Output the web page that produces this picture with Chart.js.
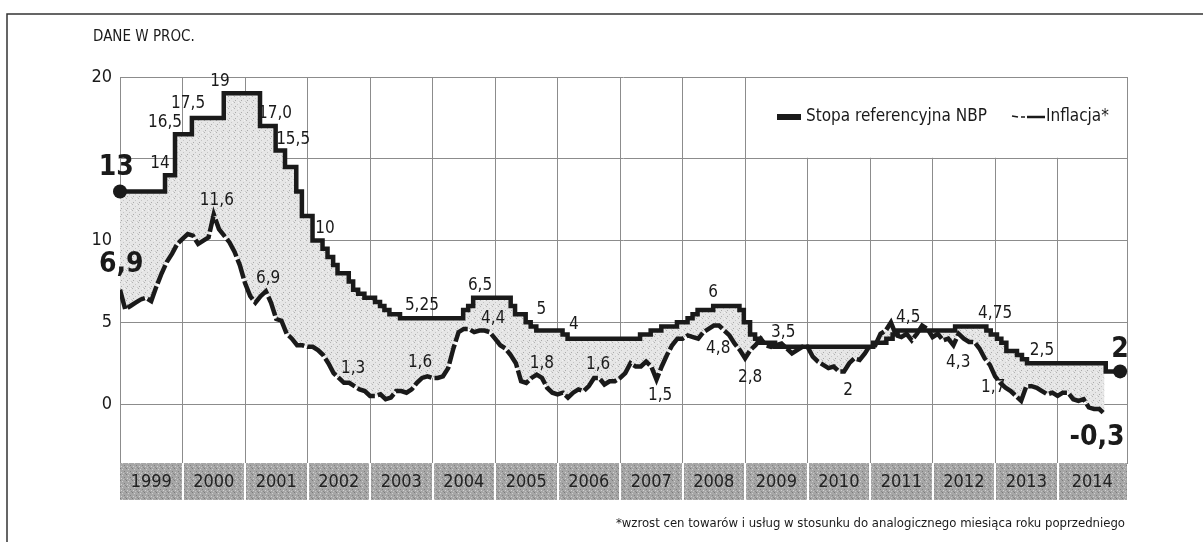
<!DOCTYPE html>
<html>
<head>
<meta charset="utf-8">
<script src="https://cdn.jsdelivr.net/npm/chart.js@4/dist/chart.umd.min.js"></script>
<style>
  html, body { margin: 0; padding: 0; background: #fff; }
  #wrap { width: 1203px; height: 542px; position: relative; }
</style>
</head>
<body>
<div id="wrap"><canvas id="chart"></canvas></div>
<script>
// stopa referencyjna NBP - daty zmian i nowe poziomy
const rateDates = [1999.0, 1999.72, 1999.88, 2000.15, 2000.66, 2001.24, 2001.49, 2001.64, 2001.82, 2001.91,
  2002.08, 2002.24, 2002.32, 2002.41, 2002.48, 2002.66, 2002.73, 2002.81, 2002.91, 2003.08,
  2003.16, 2003.23, 2003.31, 2003.48, 2004.49, 2004.57, 2004.65, 2005.25, 2005.32, 2005.49,
  2005.57, 2005.66, 2006.08, 2006.16, 2007.32, 2007.49, 2007.66, 2007.91, 2008.08, 2008.16,
  2008.24, 2008.49, 2008.91, 2008.98, 2009.08, 2009.16, 2009.24, 2009.48, 2011.05, 2011.26,
  2011.36, 2011.44, 2012.36, 2012.86, 2012.93, 2013.03, 2013.10, 2013.18, 2013.35, 2013.43,
  2013.51, 2014.77, 2015.0];
const rateValues = [13, 14, 16.5, 17.5, 19, 17, 15.5, 14.5, 13, 11.5,
  10, 9.5, 9, 8.5, 8, 7.5, 7, 6.75, 6.5, 6.25,
  6, 5.75, 5.5, 5.25, 5.75, 6, 6.5, 6, 5.5, 5,
  4.75, 4.5, 4.25, 4, 4.25, 4.5, 4.75, 5, 5.25, 5.5,
  5.75, 6, 5.75, 5, 4.25, 4, 3.75, 3.5, 3.75, 4,
  4.25, 4.5, 4.75, 4.5, 4.25, 4, 3.75, 3.25, 3, 2.75,
  2.5, 2, 2];

// inflacja r/r, miesiecznie od stycznia 1999
const inflationStart = 1999;
const inflation = [
  7.0, 5.8, 6.0, 6.2, 6.4, 6.5, 6.3, 7.2, 8.0, 8.7, 9.2, 9.8,        // 1999
  10.1, 10.4, 10.3, 9.8, 10.0, 10.2, 11.6, 10.7, 10.3, 9.9, 9.3, 8.5, // 2000
  7.4, 6.6, 6.2, 6.6, 6.9, 6.2, 5.2, 5.1, 4.3, 4.0, 3.6, 3.6,        // 2001
  3.5, 3.5, 3.3, 3.0, 2.5, 1.9, 1.6, 1.3, 1.3, 1.1, 0.9, 0.8,        // 2002
  0.5, 0.5, 0.6, 0.3, 0.4, 0.8, 0.8, 0.7, 0.9, 1.3, 1.6, 1.7,        // 2003
  1.6, 1.6, 1.7, 2.2, 3.4, 4.4, 4.6, 4.6, 4.4, 4.5, 4.5, 4.4,        // 2004
  4.0, 3.6, 3.4, 3.0, 2.5, 1.4, 1.3, 1.6, 1.8, 1.6, 1.0, 0.7,        // 2005
  0.6, 0.7, 0.4, 0.7, 0.9, 0.8, 1.1, 1.6, 1.6, 1.2, 1.4, 1.4,        // 2006
  1.6, 1.9, 2.5, 2.3, 2.3, 2.6, 2.3, 1.5, 2.3, 3.0, 3.6, 4.0,        // 2007
  4.0, 4.2, 4.1, 4.0, 4.4, 4.6, 4.8, 4.8, 4.5, 4.2, 3.7, 3.3,        // 2008
  2.8, 3.3, 3.6, 4.0, 3.6, 3.5, 3.6, 3.7, 3.4, 3.1, 3.3, 3.5,        // 2009
  3.5, 2.9, 2.6, 2.4, 2.2, 2.3, 2.0, 2.0, 2.5, 2.8, 2.7, 3.1,        // 2010
  3.6, 3.6, 4.3, 4.5, 5.0, 4.2, 4.1, 4.3, 3.9, 4.3, 4.8, 4.6,        // 2011
  4.1, 4.3, 3.9, 4.0, 3.6, 4.3, 4.0, 3.8, 3.8, 3.4, 2.8, 2.4,        // 2012
  1.7, 1.3, 1.0, 0.8, 0.5, 0.2, 1.1, 1.1, 1.0, 0.8, 0.6, 0.7,        // 2013
  0.5, 0.7, 0.7, 0.3, 0.2, 0.3, -0.2, -0.3, -0.3, -0.6               // 2014
];

const years = [1999, 2000, 2001, 2002, 2003, 2004, 2005, 2006, 2007, 2008, 2009, 2010, 2011, 2012, 2013, 2014];
const yTicks = [0, 5, 10, 15, 20];
const yTickLabels = ["0", "5", "10", "", "20"];

// opisy wartosci na wykresie (w jednostkach osi)
const notes = [
  { t: "13", x: 1998.94, y: 14.45, big: true },
  { t: "6,9", x: 1999.02, y: 8.5, big: true },
  { t: "14", x: 1999.64, y: 14.7 },
  { t: "16,5", x: 1999.72, y: 17.2 },
  { t: "17,5", x: 2000.09, y: 18.4 },
  { t: "19", x: 2000.6, y: 19.75 },
  { t: "17,0", x: 2001.48, y: 17.75 },
  { t: "15,5", x: 2001.77, y: 16.2 },
  { t: "11,6", x: 2000.55, y: 12.45 },
  { t: "10", x: 2002.28, y: 10.75 },
  { t: "6,9", x: 2001.37, y: 7.7 },
  { t: "1,3", x: 2002.73, y: 2.2 },
  { t: "5,25", x: 2003.83, y: 6.05 },
  { t: "1,6", x: 2003.8, y: 2.55 },
  { t: "6,5", x: 2004.76, y: 7.25 },
  { t: "4,4", x: 2004.97, y: 5.25 },
  { t: "5", x: 2005.74, y: 5.8 },
  { t: "4", x: 2006.26, y: 4.85 },
  { t: "1,8", x: 2005.75, y: 2.5 },
  { t: "1,6", x: 2006.65, y: 2.4 },
  { t: "1,5", x: 2007.64, y: 0.55 },
  { t: "6", x: 2008.49, y: 6.8 },
  { t: "4,8", x: 2008.57, y: 3.4 },
  { t: "2,8", x: 2009.08, y: 1.65 },
  { t: "3,5", x: 2009.61, y: 4.4 },
  { t: "2", x: 2010.65, y: 0.85 },
  { t: "4,5", x: 2011.61, y: 5.3 },
  { t: "4,75", x: 2013.0, y: 5.55 },
  { t: "4,3", x: 2012.41, y: 2.56 },
  { t: "2,5", x: 2013.75, y: 3.3 },
  { t: "1,7", x: 2012.97, y: 1.0 },
  { t: "2", x: 2015.0, y: 3.3, big: true },
  { t: "-0,3", x: 2014.63, y: -2.05, big: true }
];

const FONT = '"Liberation Sans Narrow", "DejaVu Sans Condensed", "Liberation Sans", sans-serif';
const INK = "#1a1a1a";

function makePattern(base, dots) {
  const c = document.createElement("canvas");
  c.width = 6; c.height = 6;
  const g = c.getContext("2d");
  g.fillStyle = base;
  g.fillRect(0, 0, 6, 6);
  dots.forEach(d => { g.fillStyle = d[2]; g.fillRect(d[0], d[1], 1, 1); });
  return g.createPattern(c, "repeat");
}
const stipple = makePattern("#e6e6e6", [[0, 0, "#b4b4b4"], [3, 2, "#c4c4c4"], [1, 4, "#aaaaaa"], [5, 5, "#cccccc"], [4, 0, "#f4f4f4"]]);
const bandFill = makePattern("#a6a6a6", [[0, 0, "#7c7c7c"], [2, 1, "#cfcfcf"], [4, 3, "#808080"], [1, 4, "#d2d2d2"], [5, 5, "#8a8a8a"], [3, 5, "#c4c4c4"]]);

const rateData = rateDates.map((d, i) => ({ x: d, y: rateValues[i] }));
const inflationData = inflation.map((v, i) => ({ x: inflationStart + i / 12, y: v }));

const decor = {
  id: "decor",
  beforeDatasetsDraw(chart) {
    // biale pole pod legenda
    const { ctx, chartArea } = chart;
    const xs = chart.scales.x, ys = chart.scales.y;
    const left = xs.getPixelForValue(2009) + 1;
    ctx.save();
    ctx.fillStyle = "#fff";
    ctx.fillRect(left, chartArea.top + 1, chartArea.right - left - 1, ys.getPixelForValue(15) - chartArea.top - 2);
    ctx.restore();
  },
  afterDatasetsDraw(chart) {
    const { ctx } = chart;
    const xs = chart.scales.x, ys = chart.scales.y;
    ctx.save();
    ctx.fillStyle = INK;
    ctx.textAlign = "center";
    ctx.textBaseline = "middle";
    notes.forEach(n => {
      ctx.font = n.big ? "bold 28px " + FONT : "17px " + FONT;
      ctx.fillText(n.t, xs.getPixelForValue(n.x), ys.getPixelForValue(n.y));
    });
    ctx.restore();
  },
  afterDraw(chart) {
    const { ctx, chartArea } = chart;
    const xs = chart.scales.x;
    ctx.save();

    // pasek z latami
    const bTop = chartArea.bottom, bBot = chartArea.bottom + 37;
    ctx.fillStyle = bandFill;
    ctx.fillRect(chartArea.left, bTop, chartArea.right - chartArea.left, bBot - bTop);
    ctx.strokeStyle = "#fff";
    ctx.lineWidth = 2;
    years.forEach((y, i) => {
      if (i === 0) return;
      const px = Math.round(xs.getPixelForValue(y));
      ctx.beginPath(); ctx.moveTo(px, bTop); ctx.lineTo(px, bBot); ctx.stroke();
    });
    ctx.fillStyle = "#222";
    ctx.font = "18px " + FONT;
    ctx.textAlign = "center";
    ctx.textBaseline = "middle";
    years.forEach((y, i) => {
      const a = xs.getPixelForValue(y);
      const b = i < years.length - 1 ? xs.getPixelForValue(years[i + 1]) : chartArea.right;
      ctx.fillText(String(y), (a + b) / 2, (bTop + bBot) / 2 + 1);
    });

    // legenda
    ctx.fillStyle = INK;
    ctx.fillRect(777, 114, 24, 6);
    ctx.font = "17px " + FONT;
    ctx.textAlign = "left";
    ctx.fillText("Stopa referencyjna NBP", 806, 117);
    ctx.strokeStyle = INK;
    ctx.lineWidth = 1.5;
    ctx.beginPath(); ctx.moveTo(1012, 116); ctx.lineTo(1018, 117); ctx.stroke();
    ctx.beginPath(); ctx.moveTo(1021, 117); ctx.lineTo(1025, 117); ctx.stroke();
    ctx.lineWidth = 2.5;
    ctx.beginPath(); ctx.moveTo(1027, 117); ctx.lineTo(1045, 117); ctx.stroke();
    ctx.fillText("Inflacja*", 1046, 117);

    // tytul i przypis
    ctx.font = "15px " + FONT;
    ctx.fillText("DANE W PROC.", 93, 37);
    ctx.font = "13px " + FONT;
    ctx.textAlign = "right";
    ctx.fillText("*wzrost cen towarów i usług w stosunku do analogicznego miesiąca roku poprzedniego", 1125, 524);

    // ramka
    ctx.strokeStyle = "#333";
    ctx.lineWidth = 1.5;
    ctx.beginPath();
    ctx.moveTo(7, 542); ctx.lineTo(7, 14); ctx.lineTo(1203, 14);
    ctx.stroke();
    ctx.restore();
  }
};

new Chart(document.getElementById("chart"), {
  type: "line",
  data: {
    datasets: [
      {
        label: "Stopa referencyjna NBP",
        data: rateData,
        stepped: true,
        clip: false,
        borderColor: INK,
        borderWidth: 4.5,
        borderJoinStyle: "miter",
        fill: false,
        pointRadius: c => (c.dataIndex === 0 || c.dataIndex === rateData.length - 1) ? 7 : 0,
        pointBackgroundColor: INK,
        pointBorderWidth: 0
      },
      {
        label: "Inflacja*",
        data: inflationData,
        borderColor: INK,
        borderWidth: 4.5,
        borderDash: [20, 3],
        tension: 0,
        pointRadius: 0,
        fill: "-1",
        backgroundColor: stipple
      }
    ]
  },
  options: {
    responsive: true,
    maintainAspectRatio: false,
    animation: false,
    layout: { padding: { left: 0, right: 76, top: 77, bottom: 79 } },
    plugins: { legend: { display: false }, tooltip: { enabled: false } },
    scales: {
      x: {
        type: "linear",
        min: 1999,
        max: 2015.11,
        afterBuildTicks: s => { s.ticks = years.concat([2015.11]).map(v => ({ value: v })); },
        ticks: { display: false },
        grid: { color: "#8c8c8c", lineWidth: 1, drawTicks: false },
        border: { color: "#8c8c8c" }
      },
      y: {
        min: -3.6,
        max: 20,
        afterBuildTicks: s => { s.ticks = yTicks.map(v => ({ value: v })); },
        afterFit: s => { s.width = 120; },
        ticks: {
          padding: 8,
          color: INK,
          font: { family: FONT, size: 18 },
          callback: (v, i) => yTickLabels[i]
        },
        grid: { color: "#8c8c8c", lineWidth: 1, drawTicks: false },
        border: { display: false }
      }
    }
  },
  plugins: [decor]
});
</script>
</body>
</html>
